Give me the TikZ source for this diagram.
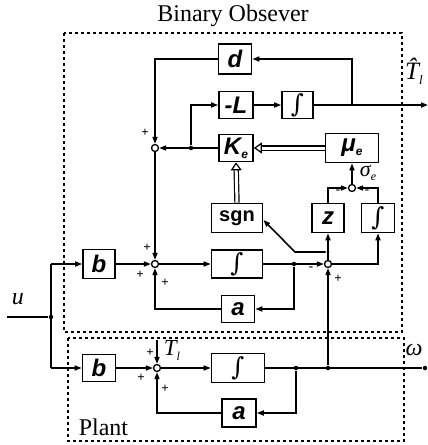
\documentclass[tikz,border=0pt]{standalone}
\usepackage{fontspec}
\setmainfont{Liberation Serif}
\newfontfamily\labfont{Liberation Sans}
\newfontfamily\intfont{DejaVu Serif}
\usetikzlibrary{arrows.meta}
\newcommand{\integ}{{\intfont\fontsize{25}{25}\selectfont\normalfont\intfont ∫}}
\begin{document}
\begin{tikzpicture}[x=1pt,y=-1pt,
  >={Triangle[length=7pt,width=5pt]},
  every path/.style={line width=1.6pt},
  blk/.style={draw,line width=1.7pt,minimum width=#1,minimum height=28pt,inner sep=0pt,
    font=\labfont\bfseries\itshape\fontsize{24}{24}\selectfont},
  blk/.default=33pt,
  sj/.style={circle,draw,line width=1.3pt,minimum size=7pt,inner sep=0pt,fill=white},
  dot/.style={circle,fill,minimum size=4.5pt,inner sep=0pt},
  sgnlab/.style={font=\bfseries\fontsize{13}{13}\selectfont,inner sep=0pt},
  dbox/.style={line width=2.2pt,dash pattern=on 3pt off 3pt},
  dbl/.style={double,double distance=3pt,line width=1.2pt,-{Triangle[length=8pt,width=11pt,open]}},
  big/.style={font=\fontsize{24}{24}\selectfont,inner sep=0pt},
  var/.style={font=\itshape\fontsize{24}{24}\selectfont,inner sep=0pt}
]
\useasboundingbox (0,0) rectangle (428,445);
% titles and frames
\node[big] (title) at (233,16) {Binary Obsever};
\node[big,anchor=west] (plant) at (78,427) {Plant};
\draw[dbox] (64,33) rectangle (402,332);
\draw[dbox] (68,338) rectangle (404,441);
% blocks
\node[blk=33pt,minimum height=30pt] (d) at (235,59) {d};
\node[blk=34pt,minimum height=27pt] (L) at (236,105) {-L};
\node[blk=31pt,minimum height=27pt] (I1) at (297.5,105) {\integ};
\node[blk=34pt,minimum height=27pt] (K) at (236,148) {K\raisebox{-4pt}{\fontsize{12}{12}\selectfont e}};
\node[blk=53pt,minimum height=29pt] (mu) at (352,148) {μ\raisebox{-4pt}{\fontsize{12}{12}\selectfont e}};
\node[blk=51pt,minimum height=29pt,font=\labfont\bfseries\fontsize{20}{20}\selectfont] (sgn) at (237,218) {sgn};
\node[blk=32pt,minimum height=29pt] (z) at (328,218) {z};
\node[blk=33pt,minimum height=29pt] (I2) at (378,218) {\integ};
\node[blk=51pt,minimum height=28pt] (I3) at (237,264) {\integ};
\node[blk=33pt,minimum height=27pt] (a1) at (238,309) {a};
\node[blk=32pt,minimum height=29pt] (b1) at (99,264) {b};
\node[blk=33pt,minimum height=27pt] (b2) at (99,368) {b};
\node[blk=53pt,minimum height=29pt] (I4) at (238,368) {\integ};
\node[blk=34pt,minimum height=28pt] (a2) at (239,413) {a};
% junctions
\node[sj] (S1) at (155,148) {};
\node[sj] (S2) at (155,264) {};
\node[sj] (S3) at (328,264) {};
\node[sj] (S4) at (157,368) {};
\node[sj] (Ss) at (352,188) {};
% dots and coordinates
\node[dot] (kd) at (191,148) {};
\node[dot,minimum size=3pt] (zd) at (328,252) {};
\node[dot] (md) at (294,264) {};
\node[dot] (ud) at (51,317) {};
\node[dot] (pd1) at (296,368) {};
\node[dot] (pd2) at (328,368) {};
\node[dot] (pend) at (425,368) {};
\coordinate (Tb) at (352,105);
\coordinate (Tend) at (428,105);
\coordinate (sg1) at (295,252);
\coordinate (u0) at (7,317);
\coordinate (ut) at (51,264);
\coordinate (ub) at (51,368);
\coordinate (Tin) at (157,340);
% connectors: observer
\draw[->] (d.west) -| (S1);
\draw[->] (Tb) |- (d.east);
\draw[->] (I1.east) -- (Tend);
\draw[->] (L) -- (I1);
\draw[->] (K.west) -- (S1);
\draw[->] (kd) |- (L.west);
\draw[dbl] (mu.west) -- (K.east);
\draw[dbl] (sgn.north) -- (K.south);
\draw[->] (Ss) -- (mu.south);
\draw[->] (z.north) |- (Ss);
\draw[->] (I2.north) |- (Ss);
\draw[->] (S3) -- (z.south);
\draw[->] (zd) -- (sg1) -- ([yshift=-2pt]sgn.east);
\draw[->] (S3) -| (I2.south);
\draw[->] (I3.east) -- (S3);
\draw[->] (S2) -- (I3.west);
\draw[->] (md) |- (a1.east);
\draw[->] (a1.west) -| (S2);
\draw[->] (S1) -- (S2);
\draw[->] (b1.east) -- (S2);
% input
\draw (u0) -- (ud);
\draw (ut) -- (ub);
\draw[->] (ut) -- (b1.west);
\draw[->] (ub) -- (b2.west);
% plant
\draw[->] (b2.east) -- (S4);
\draw[->] (Tin) -- (S4);
\draw[->] (S4) -- (I4.west);
\draw (I4.east) -- (pend);
\draw[->] (pd2) -- (S3);
\draw[->] (pd1) |- (a2.east);
\draw[->] (a2.west) -| (S4);
% labels
\node[var] (ulab) at (18,299) {u};
\node[var,font=\itshape\fontsize{25}{25}\selectfont] (Tllab) at (414,71) {\^{T}\raisebox{-5pt}{\fontsize{13}{13}\selectfont l}};
\node[var,font=\itshape\fontsize{23}{23}\selectfont] (Tlab) at (172,350) {T\raisebox{-5pt}{\fontsize{12}{12}\selectfont l}};
\node[var] (om) at (414,350) {ω};
\node[var,font=\itshape\fontsize{22}{22}\selectfont] (sig) at (368,173) {σ\raisebox{-4pt}{\fontsize{12}{12}\selectfont e}};
\node[sgnlab] (p1) at (145,133) {+};
\node[sgnlab] (p2) at (147,248) {+};
\node[sgnlab] (p3) at (140,275) {+};
\node[sgnlab] (p4) at (165,283) {+};
\node[sgnlab] (m1) at (311,269) {-};
\node[sgnlab] (p5) at (338,279) {+};
\node[sgnlab] (m2) at (338,192) {-};
\node[sgnlab] (m3) at (367,192) {-};
\node[sgnlab] (p6) at (150,353) {+};
\node[sgnlab] (p7) at (141,378) {+};
\node[sgnlab] (p8) at (165,389) {+};
\end{tikzpicture}
\end{document}
